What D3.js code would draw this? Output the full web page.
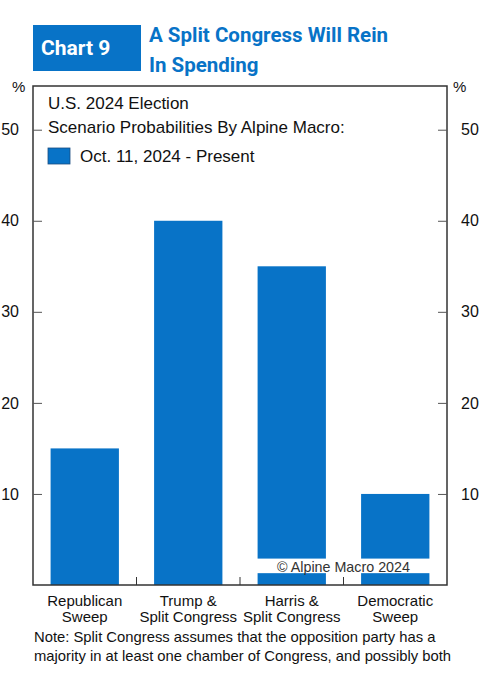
<!DOCTYPE html>
<html>
<head>
<meta charset="utf-8">
<script src="https://cdn.jsdelivr.net/npm/d3@7"></script>
<style>
  body { margin: 0; background: #fff; }
  svg text { font-family: "Liberation Sans", Arial, sans-serif; fill: #111; }
</style>
</head>
<body>
<div id="chart"></div>
<script>
const categories = ["Republican\nSweep", "Trump &\nSplit Congress", "Harris &\nSplit Congress", "Democratic\nSweep"];
const probabilities = [15, 40, 35, 10];
const yTicks = [10, 20, 30, 40, 50];
const legendLabel = "Oct. 11, 2024 - Present";

const W = 486, H = 681;
const margin = {top: 86, right: 39, bottom: 96, left: 33};
const width = W - margin.left - margin.right;
const height = H - margin.top - margin.bottom;
const blue = "#0873C7";

const svg = d3.select("#chart").append("svg")
    .attr("width", W)
    .attr("height", H);

// header
svg.append("rect")
    .attr("x", 33).attr("y", 25).attr("width", 108).attr("height", 46)
    .attr("fill", blue);
svg.append("text")
    .attr("x", 41).attr("y", 55)
    .style("font-family", "Roboto, sans-serif")
    .style("font-weight", "bold")
    .style("font-size", "21px")
    .style("fill", "#fff")
    .text("Chart 9");
const title = svg.append("text")
    .style("font-family", "Roboto, sans-serif")
    .style("font-weight", "bold")
    .style("font-size", "20.5px")
    .style("fill", blue);
title.append("tspan").attr("x", 149).attr("y", 42).text("A Split Congress Will Rein");
title.append("tspan").attr("x", 149).attr("y", 72).text("In Spending");

const g = svg.append("g")
    .attr("transform", `translate(${margin.left},${margin.top})`);

const x = d3.scaleBand()
    .domain(categories)
    .range([0, width])
    .paddingInner(0.34)
    .paddingOuter(0.17);

const y = d3.scaleLinear()
    .domain([0, 54.8])
    .range([height, 0]);

// bars
g.selectAll(".bar")
    .data(categories)
    .enter().append("rect")
    .attr("class", "bar")
    .attr("x", d => x(d))
    .attr("width", x.bandwidth())
    .attr("y", (d, i) => y(probabilities[i]))
    .attr("height", (d, i) => height - y(probabilities[i]))
    .attr("fill", blue);

// copyright box
g.append("rect")
    .attr("x", x(categories[2]) - 4).attr("y", y(2.9))
    .attr("width", x(categories[3]) + x.bandwidth() - x(categories[2]) + 8)
    .attr("height", y(1.3) - y(2.9))
    .attr("fill", "#fff");
g.append("text")
    .attr("x", (x(categories[2]) + x(categories[3]) + x.bandwidth()) / 2)
    .attr("y", y(1.45))
    .attr("text-anchor", "middle")
    .style("font-size", "14.3px")
    .style("fill", "#333")
    .text("© Alpine Macro 2024");

// frame
g.append("rect")
    .attr("width", width).attr("height", height)
    .attr("fill", "none")
    .attr("stroke", "#333")
    .attr("stroke-width", 1.5);

// y axes
const leftAxis = g.append("g")
    .call(d3.axisLeft(y).tickValues(yTicks).tickSize(-9).tickPadding(14));
const rightAxis = g.append("g")
    .attr("transform", `translate(${width},0)`)
    .call(d3.axisRight(y).tickValues(yTicks).tickSize(-9).tickPadding(14));
[leftAxis, rightAxis].forEach(a => {
    a.select(".domain").remove();
    a.selectAll("line").attr("stroke", "#555");
    a.selectAll("text").style("font-size", "16px").style("font-family", "Liberation Sans, Arial, sans-serif");
});

// x axis ticks between categories
const step = x.step();
g.selectAll(".xtick")
    .data(categories.slice(1))
    .enter().append("line")
    .attr("x1", d => x(d) - x.paddingInner() * step / 2)
    .attr("x2", d => x(d) - x.paddingInner() * step / 2)
    .attr("y1", height).attr("y2", height - 8)
    .attr("stroke", "#333");

// category labels
categories.forEach(c => {
    const t = g.append("text")
        .attr("text-anchor", "middle")
        .style("font-size", "15px");
    c.split("\n").forEach((line, i) => {
        t.append("tspan")
            .attr("x", x(c) + x.bandwidth() / 2)
            .attr("y", height + 21 + i * 16)
            .text(line);
    });
});

// unit labels
svg.append("text").attr("x", 12).attr("y", 92).style("font-size", "15px").text("%");
svg.append("text").attr("x", 453).attr("y", 92).style("font-size", "15px").text("%");

// legend
g.append("text").attr("x", 15).attr("y", 23).style("font-size", "17px").text("U.S. 2024 Election");
g.append("text").attr("x", 15).attr("y", 47).style("font-size", "17px").text("Scenario Probabilities By Alpine Macro:");
g.append("rect")
    .attr("x", 15).attr("y", 62).attr("width", 22).attr("height", 16)
    .attr("fill", blue).attr("stroke", "#1a4d80").attr("stroke-width", 0.8);
g.append("text").attr("x", 47).attr("y", 76).style("font-size", "17px").text(legendLabel);

// note
const note = svg.append("text").style("font-size", "14.8px");
note.append("tspan").attr("x", 34).attr("y", 642)
    .text("Note: Split Congress assumes that the opposition party has a");
note.append("tspan").attr("x", 34).attr("y", 661)
    .text("majority in at least one chamber of Congress, and possibly both");
</script>
</body>
</html>
